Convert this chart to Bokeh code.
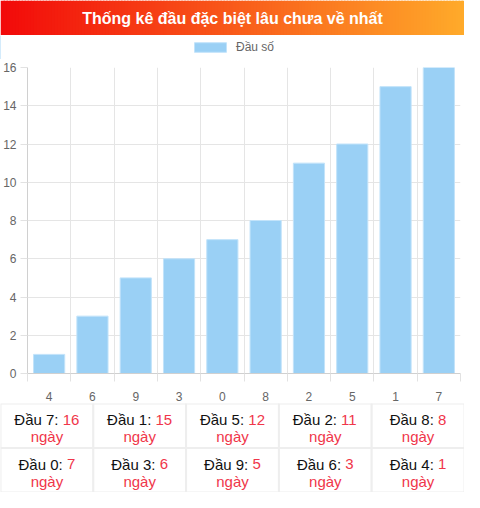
from bokeh.plotting import figure
from bokeh.layouts import column
from bokeh.models import ColumnDataSource, FixedTicker, Legend, LegendItem, Range1d
from bokeh.core.properties import value
from bokeh.embed import file_html
from bokeh.resources import INLINE

# du lieu
title_text = "Thống kê đầu đặc biệt lâu chưa về nhất"
series_name = "Đầu số"
dau = ["4", "6", "9", "3", "0", "8", "2", "5", "1", "7"]
so_ngay = [1, 3, 5, 6, 7, 8, 11, 12, 15, 16]
y_ticks = [0, 2, 4, 6, 8, 10, 12, 14, 16]
unit_text = "ngày"

W = 464
FONT = "Liberation Sans"
RED = "#f0364a"
BAR_FILL, BAR_LINE = "#9ad0f5", "#c2e3fa"


def blank(h, xr=(0, 1), yr=(0, 1)):
    f = figure(width=W, height=h, x_range=xr, y_range=yr,
               output_backend="svg", toolbar_location=None, min_border=0,
               x_axis_location=None, y_axis_location=None, frame_align=False)
    f.grid.visible = False
    f.outline_line_color = None
    return f


# --- thanh tieu de (nen gradient) ---
head = blank(35)
n = 154
c0, c1 = (242, 10, 10), (255, 170, 42)
grad = ["#%02x%02x%02x" % tuple(round(a + (b - a) * i / (n - 1)) for a, b in zip(c0, c1))
        for i in range(n)]
head.quad(left=[i / n for i in range(n)], right=[(i + 1.5) / n for i in range(n)],
          bottom=0, top=1, fill_color=grad, line_color=None)
head.text(x=[0.5], y=[0.5], text=[title_text], text_align="center", text_baseline="middle",
          text_color="white", text_font=value(FONT), text_font_style="bold",
          text_font_size="16px")

# --- chu giai (glyph mau nam ngoai vung nhin) ---
leg = blank(24)
dummy = leg.vbar(x=[-5], top=[1], width=0.72, fill_color=BAR_FILL, line_color=BAR_LINE)
legend = Legend(items=[LegendItem(label=series_name, renderers=[dummy])],
                location="center", orientation="horizontal",
                glyph_width=40, glyph_height=12, label_height=12, label_standoff=6,
                label_text_font=FONT, label_text_font_size="12px", label_text_color="#666666",
                padding=4, margin=0, border_line_color=None, background_fill_alpha=0)
leg.add_layout(legend)

# --- bieu do cot ---
x_pos = [i + 0.5 for i in range(len(dau))]
edges = list(range(len(dau) + 1))
src = ColumnDataSource(dict(x=x_pos, top=so_ngay))

p = figure(width=W, height=344, x_range=Range1d(0, len(dau)), y_range=Range1d(0, 16),
           output_backend="svg", toolbar_location=None, frame_align=False,
           min_border_left=0, min_border_right=4, min_border_top=8, min_border_bottom=28)
p.outline_line_color = None
p.vbar(x="x", top="top", width=0.72, source=src,
       fill_color=BAR_FILL, line_color=BAR_LINE, line_width=1)

p.yaxis.ticker = FixedTicker(ticks=y_ticks)
p.yaxis.major_tick_out = 7
p.yaxis.major_tick_in = 0
p.yaxis.minor_tick_out = 0
p.yaxis.minor_tick_in = 0
p.yaxis.major_tick_line_color = "#e2e2e2"
p.yaxis.axis_line_color = "#d0d0d0"
p.yaxis.major_label_standoff = 4

p.xaxis.ticker = FixedTicker(ticks=x_pos, minor_ticks=edges)
p.xaxis.major_label_overrides = {x: d for x, d in zip(x_pos, dau)}
p.xaxis.major_tick_out = 0
p.xaxis.major_tick_in = 0
p.xaxis.minor_tick_out = 8
p.xaxis.minor_tick_in = 0
p.xaxis.minor_tick_line_color = "#e2e2e2"
p.xaxis.axis_line_color = "#d0d0d0"
p.xaxis.major_label_standoff = 10

for ax in (p.xaxis, p.yaxis):
    ax.major_label_text_font = FONT
    ax.major_label_text_font_size = "12px"
    ax.major_label_text_color = "#666666"

p.xgrid.ticker = FixedTicker(ticks=edges)
p.xgrid.grid_line_color = "#e5e5e5"
p.ygrid.grid_line_color = "#e5e5e5"

# --- bang thong ke ---
order = sorted(range(len(dau)), key=lambda i: -so_ngay[i])
ncol = 5
cx = [k % ncol + 0.5 for k in range(len(order))]
cy = [1.5 - k // ncol for k in range(len(order))]
lbl = ["Đầu %s:" % dau[i] for i in order]
val = [str(so_ngay[i]) for i in order]

# can giua "Đầu x: nn" theo do rong uoc tinh cua chu 15px
w_lbl, w_gap, w_dig = 44.1, 4.2, 8.34
tot = [w_lbl + w_gap + w_dig * len(v) for v in val]
off_lbl = [-t / 2 + w_lbl for t in tot]
off_val = [o + w_gap for o in off_lbl]

tsrc = ColumnDataSource(dict(x=cx, y=cy, y1=[y + 0.13 for y in cy], y2=[y - 0.25 for y in cy],
                             lbl=lbl, val=val, unit=[unit_text] * len(order),
                             off_lbl=off_lbl, off_val=off_val))

t = blank(89, xr=(0, ncol), yr=(0, 2))
t.rect(x="x", y="y", width=1, height=1, source=tsrc,
       fill_color="white", line_color="#eeeeee", line_width=2)
t.text(x="x", y="y1", text="lbl", x_offset="off_lbl", source=tsrc,
       text_align="right", text_baseline="middle", text_color="#111111",
       text_font=value(FONT), text_font_size="15px")
t.text(x="x", y="y1", text="val", x_offset="off_val", source=tsrc,
       text_align="left", text_baseline="middle", text_color=RED,
       text_font=value(FONT), text_font_size="15px")
t.text(x="x", y="y2", text="unit", source=tsrc,
       text_align="center", text_baseline="middle", text_color=RED,
       text_font=value(FONT), text_font_size="15px")

layout = column(head, leg, p, t, spacing=0)

open("out.html", "w").write(file_html(layout, INLINE))
